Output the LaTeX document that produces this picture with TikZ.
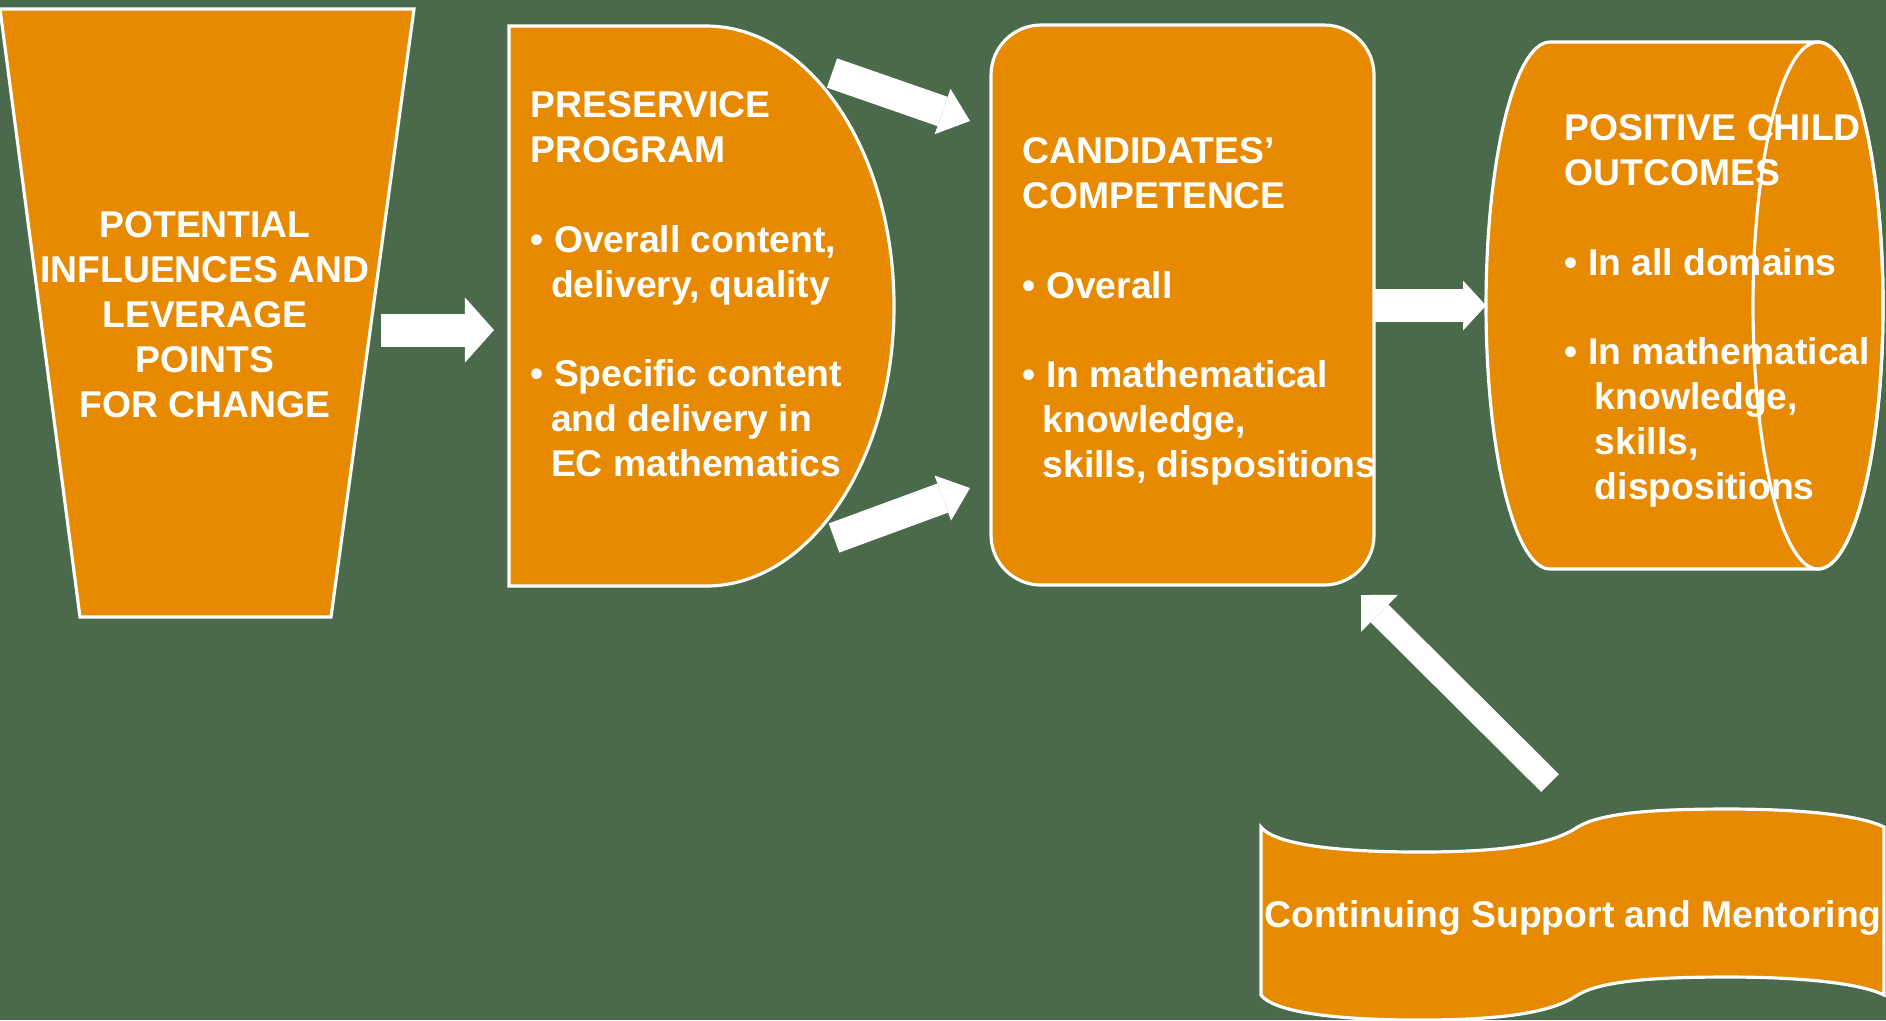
\documentclass[tikz,border=0pt]{standalone}
\usepackage{fontspec}
\setmainfont{Liberation Sans}
\usepackage{tikz}
\usetikzlibrary{arrows.meta}
\definecolor{fondo}{RGB}{74,106,75}
\definecolor{naranja}{RGB}{231,138,0}
\tikzstyle{forma}=[fill=naranja, draw=white, line width=0.9pt]
\tikzstyle{texto}=[text=white, inner sep=0pt, align=left, font=\bfseries\fontsize{10.6}{12.75}\selectfont]
\tikzset{flecha/.style n args={3}{draw=white, line width=#1, -{Triangle[length=#2, width=#3, line width=0pt]}}}

\begin{document}
\begin{tikzpicture}[x=0.01cm, y=-0.01cm]
        % fondo
        \fill[fondo] (0,0) rectangle (1886,1020);
        \useasboundingbox (0,0) rectangle (1886,1020);

        % formas
        \draw[forma] (0,9) -- (414,9) -- (331,617) -- (80,617) -- cycle;
        \draw[forma] (509,26) -- (706,26) arc[start angle=-90, end angle=90, x radius=188, y radius=280] -- (509,586) -- cycle;
        \draw[forma, rounded corners=0.5cm] (991,25) rectangle (1374,585);
        \draw[forma] (1550,42) -- (1818,42) arc[start angle=-90, end angle=90, x radius=65, y radius=263.5] -- (1550,569) arc[start angle=90, end angle=270, x radius=64, y radius=263.5] -- cycle;
        \draw[white, line width=0.9pt] (1818,305.5) ellipse[x radius=65, y radius=263.5];
        \draw[forma] (1261,827) .. controls (1275,845) and (1340,852) .. (1419,852) .. controls (1500,852) and (1550,845) .. (1576,828) .. controls (1600,812) and (1660,809) .. (1728,809) .. controls (1800,809) and (1860,815) .. (1884,827) -- (1884,995) .. controls (1860,983) and (1800,977) .. (1728,977) .. controls (1660,977) and (1600,980) .. (1576,996) .. controls (1550,1013) and (1500,1020) .. (1419,1020) .. controls (1340,1020) and (1275,1013) .. (1261,995) -- cycle;

        % textos
        \node[texto, align=center, anchor=north] (influencias) at (205,211) {POTENTIAL\\INFLUENCES AND\\LEVERAGE\\POINTS\\FOR CHANGE};
        \node[texto, anchor=north west] (programa) at (530,91) {PRESERVICE\\PROGRAM\\[12.75pt]
            \textbullet\ Overall content,\\\hspace*{5.8pt}delivery, quality\\[12.75pt]
            \textbullet\ Specific content\\\hspace*{5.8pt}and delivery in\\\hspace*{5.8pt}EC mathematics};
        \node[texto, anchor=north west] (competencia) at (1022,137) {CANDIDATES’\\COMPETENCE\\[12.75pt]
            \textbullet\ Overall\\[12.75pt]
            \textbullet\ In mathematical\\\hspace*{5.7pt}knowledge,\\\hspace*{5.7pt}skills, dispositions};
        \node[texto, anchor=north west] (resultados) at (1564,114) {POSITIVE CHILD\\OUTCOMES\\[12.75pt]
            \textbullet\ In all domains\\[12.75pt]
            \textbullet\ In mathematical\\\hspace*{8.6pt}knowledge,\\\hspace*{8.6pt}skills,\\\hspace*{8.6pt}dispositions};
        \node[texto, anchor=base] (apoyo) at (1573,927) {Continuing Support and Mentoring};

        % flechas
        \coordinate (infl-sal) at (381,330);
        \coordinate (prog-ent) at (494,330);
        \coordinate (prog-arr) at (832,73);
        \coordinate (comp-arr) at (970,121);
        \coordinate (prog-aba) at (834,538);
        \coordinate (comp-aba) at (970,488);
        \coordinate (comp-sal) at (1375,305.5);
        \coordinate (res-ent) at (1486,305.5);
        \coordinate (apoyo-sal) at (1550,783);
        \coordinate (comp-ent) at (1361,595);
        \draw[flecha={0.33cm}{0.29cm}{0.65cm}] (infl-sal) -- (prog-ent);
        \draw[flecha={0.31cm}{0.29cm}{0.48cm}] (prog-arr) -- (comp-arr);
        \draw[flecha={0.31cm}{0.29cm}{0.48cm}] (prog-aba) -- (comp-aba);
        \draw[flecha={0.33cm}{0.23cm}{0.50cm}] (comp-sal) -- (res-ent);
        \draw[flecha={0.25cm}{0.26cm}{0.52cm}] (apoyo-sal) -- (comp-ent);
\end{tikzpicture}
\end{document}
